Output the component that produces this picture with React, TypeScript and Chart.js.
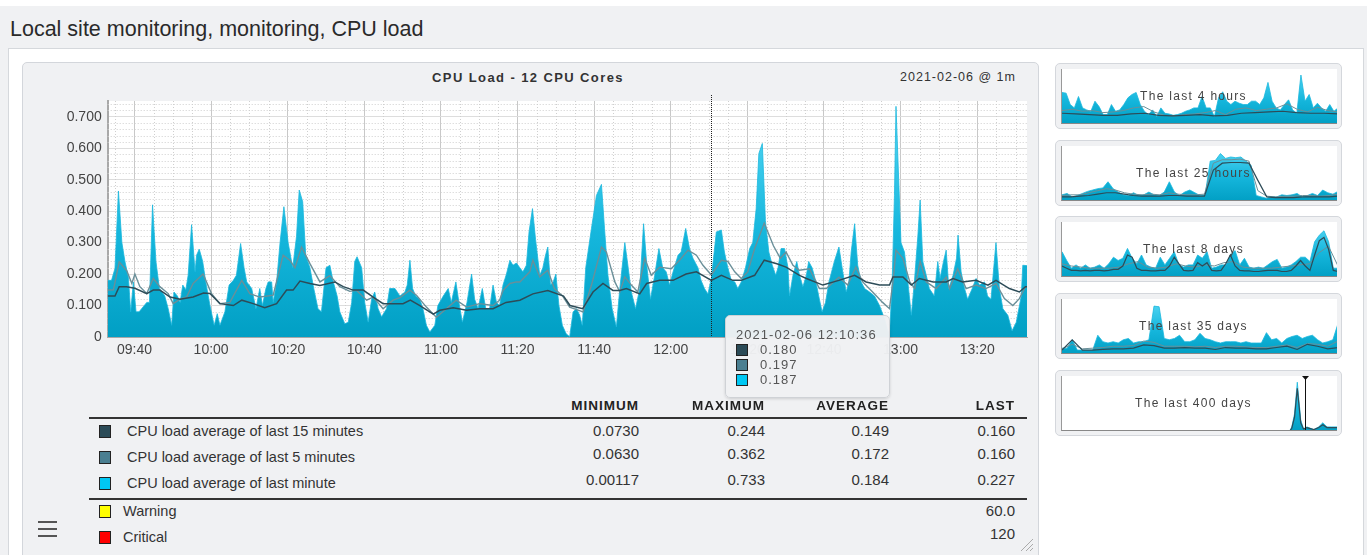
import React, { useEffect, useRef } from "react";
import { Chart, registerables } from "chart.js";

Chart.register(...registerables);

// ---------- main chart data (x = minutes after 09:33) ----------
const X_TICK_MIN = [7, 27, 47, 67, 87, 107, 127, 147, 167, 187, 207, 227];
const X_TICK_LABELS = ["09:40", "10:00", "10:20", "10:40", "11:00", "11:20", "11:40", "12:00", "12:20", "12:40", "13:00", "13:20"];
const HOVER_MIN = 157.6;

const T_1M = [0, 1.0, 1.9, 2.8, 3.7, 4.5, 5.4, 6.0, 6.7, 7.4, 8.2, 10.2, 10.9, 11.7, 12.6, 13.5, 14.9, 15.8, 16.7, 17.3, 18.2, 18.9, 19.6, 20.4, 21.0, 21.9, 22.8, 23.2, 23.9, 24.8, 25.6, 26.7, 27.8, 28.6, 29.3, 30.6, 31.7, 32.8, 33.6, 34.7, 35.6, 36.3, 37.6, 38.7, 39.7, 40.4, 41.3, 41.9, 42.8, 43.2, 44.1, 45.0, 46.0, 47.1, 48.3, 49.3, 50.0, 50.9, 51.7, 52.8, 53.8, 54.9, 55.8, 57.0, 58.0, 58.9, 59.9, 60.6, 61.9, 62.8, 63.7, 64.5, 65.1, 66.3, 67.1, 68.0, 68.9, 69.7, 70.6, 71.5, 72.8, 73.6, 75.0, 76.3, 77.6, 78.2, 78.9, 79.6, 80.4, 81.5, 82.3, 83.2, 84.1, 85.4, 86.2, 87.6, 88.9, 89.7, 90.9, 91.7, 92.6, 93.8, 95.0, 95.8, 96.7, 97.8, 98.7, 99.7, 100.6, 101.5, 102.3, 103.2, 104.1, 105.0, 105.8, 106.7, 107.6, 108.4, 109.3, 110.0, 110.9, 111.7, 112.8, 113.6, 114.3, 114.9, 115.6, 116.3, 117.0, 117.8, 118.7, 119.7, 120.6, 121.5, 122.4, 123.2, 123.9, 124.8, 126.3, 127.6, 128.9, 129.7, 130.6, 131.7, 132.8, 133.7, 135.0, 135.8, 136.7, 137.8, 138.9, 139.9, 140.8, 141.7, 142.8, 143.9, 144.9, 145.8, 146.7, 147.6, 148.9, 149.7, 150.9, 151.9, 152.8, 154.1, 154.9, 155.8, 156.7, 157.6, 158.9, 160.2, 161.0, 161.9, 162.8, 163.7, 164.5, 165.4, 166.5, 167.6, 168.4, 169.3, 170.0, 170.9, 171.7, 172.6, 173.5, 174.4, 175.0, 175.8, 176.7, 177.6, 178.0, 178.9, 179.9, 180.6, 181.5, 182.4, 183.0, 183.9, 184.9, 185.8, 186.5, 187.4, 188.3, 189.7, 190.9, 191.9, 192.8, 193.5, 194.1, 195.0, 195.8, 196.7, 197.6, 198.9, 200.2, 201.5, 202.8, 204.1, 204.8, 205.4, 205.8, 206.5, 207.1, 208.0, 208.9, 209.8, 210.6, 211.5, 212.1, 212.8, 213.7, 214.5, 215.8, 216.7, 217.3, 218.2, 218.9, 219.6, 220.7, 221.6, 222.0, 222.8, 223.7, 224.5, 225.7, 226.7, 227.6, 228.9, 229.7, 230.6, 231.9, 232.8, 233.7, 235.0, 236.1, 237.2, 238.5, 238.9, 239.8, 240];
const V_1M = [0.18, 0.18, 0.218, 0.464, 0.3, 0.24, 0.19, 0.08, 0.175, 0.08, 0.08, 0.11, 0.11, 0.42, 0.24, 0.154, 0.13, 0.09, 0.037, 0.143, 0.13, 0.11, 0.165, 0.15, 0.196, 0.357, 0.207, 0.26, 0.279, 0.24, 0.175, 0.1, 0.037, 0.074, 0.037, 0.08, 0.165, 0.18, 0.196, 0.297, 0.22, 0.175, 0.154, 0.09, 0.154, 0.1, 0.154, 0.175, 0.175, 0.11, 0.175, 0.3, 0.414, 0.3, 0.22, 0.32, 0.467, 0.43, 0.26, 0.22, 0.154, 0.09, 0.08, 0.22, 0.228, 0.175, 0.13, 0.08, 0.042, 0.047, 0.11, 0.24, 0.255, 0.22, 0.11, 0.047, 0.12, 0.143, 0.09, 0.064, 0.09, 0.154, 0.154, 0.13, 0.143, 0.165, 0.244, 0.154, 0.13, 0.12, 0.09, 0.037, 0.016, 0.037, 0.1, 0.13, 0.154, 0.11, 0.175, 0.11, 0.047, 0.11, 0.2, 0.12, 0.09, 0.154, 0.09, 0.09, 0.165, 0.11, 0.1, 0.165, 0.2, 0.244, 0.228, 0.235, 0.22, 0.207, 0.228, 0.334, 0.408, 0.31, 0.196, 0.22, 0.26, 0.286, 0.165, 0.175, 0.2, 0.1, 0.037, 0.01, 0.00117, 0.08, 0.09, 0.07, 0.037, 0.22, 0.345, 0.45, 0.485, 0.345, 0.196, 0.09, 0.032, 0.154, 0.3, 0.228, 0.143, 0.09, 0.154, 0.36, 0.22, 0.12, 0.196, 0.281, 0.22, 0.207, 0.165, 0.207, 0.26, 0.27, 0.345, 0.281, 0.25, 0.22, 0.18, 0.154, 0.137, 0.187, 0.334, 0.34, 0.27, 0.22, 0.18, 0.175, 0.154, 0.175, 0.22, 0.281, 0.3, 0.408, 0.583, 0.615, 0.37, 0.27, 0.228, 0.196, 0.22, 0.281, 0.281, 0.22, 0.13, 0.196, 0.24, 0.196, 0.16, 0.196, 0.24, 0.22, 0.175, 0.12, 0.08, 0.11, 0.175, 0.24, 0.286, 0.207, 0.143, 0.175, 0.27, 0.36, 0.228, 0.175, 0.154, 0.143, 0.13, 0.1, 0.058, 0.002, 0.175, 0.45, 0.733, 0.5, 0.3, 0.27, 0.175, 0.069, 0.175, 0.32, 0.435, 0.24, 0.196, 0.154, 0.13, 0.24, 0.186, 0.24, 0.276, 0.154, 0.196, 0.25, 0.324, 0.207, 0.154, 0.12, 0.154, 0.186, 0.165, 0.175, 0.13, 0.12, 0.3, 0.154, 0.09, 0.069, 0.02, 0.047, 0.13, 0.228, 0.227, 0.227];

const T_5M = [0, 1.5, 3.0, 5.0, 6.3, 7.1, 8.4, 10.2, 11.9, 13.6, 15.8, 17.1, 18.9, 20.6, 22.3, 24.9, 27.1, 29.3, 31.9, 35.0, 37.1, 39.7, 41.5, 43.2, 45.8, 47.6, 48.9, 50.6, 52.8, 55.4, 58.0, 60.6, 63.2, 65.0, 67.6, 69.3, 71.9, 74.5, 76.3, 78.9, 80.6, 83.2, 85.8, 88.4, 91.0, 93.7, 97.1, 100.6, 102.3, 103.2, 105.0, 106.7, 107.6, 110.2, 111.0, 112.8, 114.9, 116.6, 118.8, 120.6, 124.1, 126.3, 128.9, 130.2, 132.4, 133.7, 135.0, 136.7, 138.4, 140.2, 141.9, 144.1, 147.1, 149.3, 151.5, 153.7, 155.4, 157.6, 160.2, 161.9, 163.7, 165.4, 167.1, 168.9, 171.4, 173.8, 175.6, 177.1, 178.9, 180.6, 183.2, 185.8, 187.6, 190.9, 193.2, 195.3, 197.1, 199.7, 202.3, 204.1, 205.0, 205.8, 207.6, 209.4, 210.7, 212.1, 213.7, 216.3, 218.9, 219.8, 221.9, 224.1, 226.7, 229.3, 231.9, 234.1, 236.3, 238.0, 239.6, 240];
const V_5M = [0.149, 0.15, 0.239, 0.21, 0.17, 0.2, 0.16, 0.138, 0.186, 0.16, 0.138, 0.106, 0.12, 0.127, 0.17, 0.2, 0.138, 0.106, 0.11, 0.18, 0.138, 0.127, 0.13, 0.133, 0.26, 0.243, 0.22, 0.286, 0.233, 0.175, 0.195, 0.16, 0.145, 0.148, 0.117, 0.127, 0.09, 0.117, 0.125, 0.149, 0.133, 0.095, 0.063, 0.09, 0.117, 0.095, 0.106, 0.1, 0.117, 0.148, 0.17, 0.175, 0.175, 0.207, 0.244, 0.191, 0.212, 0.154, 0.13, 0.095, 0.08, 0.165, 0.286, 0.27, 0.175, 0.143, 0.191, 0.165, 0.143, 0.25, 0.196, 0.222, 0.217, 0.244, 0.276, 0.26, 0.228, 0.197, 0.244, 0.24, 0.207, 0.186, 0.207, 0.281, 0.362, 0.29, 0.25, 0.27, 0.228, 0.212, 0.217, 0.154, 0.154, 0.19, 0.165, 0.222, 0.175, 0.143, 0.11, 0.09, 0.175, 0.276, 0.25, 0.175, 0.154, 0.24, 0.175, 0.154, 0.19, 0.154, 0.217, 0.154, 0.165, 0.154, 0.17, 0.122, 0.1, 0.122, 0.16, 0.16];

const T_15M = [0, 1.9, 3.0, 4.9, 7.1, 10.2, 11.9, 13.6, 16.3, 18.9, 22.3, 25.0, 26.7, 29.3, 32.8, 35.0, 38.0, 41.0, 44.1, 46.7, 48.4, 50.2, 52.8, 55.4, 59.3, 61.5, 64.1, 66.7, 69.3, 71.9, 74.5, 77.1, 79.0, 81.5, 85.0, 86.7, 90.2, 93.7, 97.1, 100.6, 104.0, 107.6, 111.0, 114.9, 119.0, 120.7, 124.0, 126.7, 129.3, 131.9, 133.7, 135.4, 138.9, 140.7, 144.1, 147.6, 151.0, 153.7, 157.6, 160.2, 163.2, 165.4, 168.9, 171.4, 174.7, 177.1, 180.6, 182.4, 186.7, 190.9, 195.0, 198.0, 201.5, 204.1, 205.0, 207.6, 209.8, 211.9, 215.5, 218.9, 220.7, 223.2, 226.7, 229.8, 231.9, 235.4, 238.0, 239.6, 240];
const V_15M = [0.13, 0.13, 0.16, 0.16, 0.155, 0.138, 0.149, 0.149, 0.127, 0.12, 0.127, 0.14, 0.138, 0.106, 0.1, 0.117, 0.106, 0.093, 0.106, 0.149, 0.149, 0.178, 0.17, 0.164, 0.175, 0.16, 0.149, 0.149, 0.127, 0.106, 0.106, 0.106, 0.117, 0.1, 0.073, 0.085, 0.093, 0.085, 0.09, 0.09, 0.11, 0.117, 0.137, 0.148, 0.13, 0.1, 0.09, 0.143, 0.17, 0.148, 0.148, 0.154, 0.137, 0.17, 0.18, 0.18, 0.2, 0.207, 0.18, 0.196, 0.18, 0.18, 0.196, 0.244, 0.233, 0.222, 0.196, 0.186, 0.165, 0.18, 0.196, 0.175, 0.165, 0.165, 0.191, 0.191, 0.165, 0.186, 0.175, 0.175, 0.186, 0.175, 0.18, 0.165, 0.18, 0.154, 0.143, 0.16, 0.16];

// ---------- tooltip & legend table ----------
const TOOLTIP_TIME = "2021-02-06 12:10:36";
const TOOLTIP_VALUES = ["0.180", "0.197", "0.187"];
const SERIES_NAMES = ["CPU load average of last 15 minutes", "CPU load average of last 5 minutes", "CPU load average of last minute"];
const SERIES_COLORS = ["#2b4b57", "#4a7f91", "#00c8f4"];
const COL_HEADERS = ["MINIMUM", "MAXIMUM", "AVERAGE", "LAST"];
const MINIMUMS = ["0.0730", "0.0630", "0.00117"];
const MAXIMUMS = ["0.244", "0.362", "0.733"];
const AVERAGES = ["0.149", "0.172", "0.184"];
const LASTS = ["0.160", "0.160", "0.227"];
const THRESHOLD_NAMES = ["Warning", "Critical"];
const THRESHOLD_COLORS = ["#ffff00", "#ff0000"];
const THRESHOLD_VALUES = ["60.0", "120"];

// ---------- thumbnails ----------
const THUMB_LABELS = ["The last 4 hours", "The last 25 hours", "The last 8 days", "The last 35 days", "The last 400 days"];
const THUMB_YMAX = [0.82, 0.8, 0.5, 0.85, 0.8];

const TH4H_1M = [0.47, 0.46, 0.29, 0.24, 0.41, 0.24, 0.21, 0.19, 0.34, 0.26, 0.14, 0.14, 0.29, 0.19, 0.21, 0.29, 0.39, 0.44, 0.47, 0.29, 0.19, 0.14, 0.21, 0.11, 0.24, 0.16, 0.15, 0.13, 0.14, 0.16, 0.19, 0.21, 0.24, 0.24, 0.41, 0.24, 0.24, 0.11, 0.39, 0.48, 0.34, 0.29, 0.34, 0.31, 0.29, 0.29, 0.34, 0.34, 0.29, 0.39, 0.62, 0.34, 0.24, 0.21, 0.29, 0.36, 0.21, 0.16, 0.73, 0.34, 0.44, 0.24, 0.31, 0.24, 0.19, 0.29, 0.19, 0.24];
const TH4H_5M = [0.2, 0.22, 0.19, 0.2, 0.17, 0.18, 0.2, 0.24, 0.26, 0.18, 0.13, 0.12, 0.14, 0.15, 0.17, 0.2, 0.14, 0.22, 0.24, 0.2, 0.22, 0.24, 0.3, 0.22, 0.18, 0.25, 0.2, 0.18];
const TH4H_15M = [0.16, 0.15, 0.14, 0.13, 0.13, 0.15, 0.16, 0.13, 0.12, 0.13, 0.14, 0.12, 0.13, 0.16, 0.17, 0.18, 0.19, 0.17, 0.16, 0.16, 0.15];

const TH25H_1M = [0.09, 0.11, 0.06, 0.08, 0.11, 0.14, 0.16, 0.18, 0.19, 0.28, 0.18, 0.13, 0.09, 0.08, 0.12, 0.08, 0.09, 0.13, 0.09, 0.08, 0.13, 0.28, 0.13, 0.08, 0.13, 0.16, 0.12, 0.08, 0.09, 0.58, 0.59, 0.69, 0.62, 0.64, 0.63, 0.64, 0.58, 0.52, 0.08, 0.06, 0.04, 0.06, 0.06, 0.09, 0.08, 0.09, 0.11, 0.06, 0.08, 0.11, 0.08, 0.16, 0.12, 0.1, 0.14];
const TH25H_5M = [0.08, 0.09, 0.09, 0.12, 0.15, 0.18, 0.16, 0.12, 0.1, 0.09, 0.1, 0.09, 0.12, 0.1, 0.09, 0.09, 0.1, 0.55, 0.6, 0.6, 0.61, 0.58, 0.15, 0.07, 0.06, 0.07, 0.07, 0.08, 0.08, 0.07, 0.08, 0.1];
const TH25H_15M = [0.06, 0.06, 0.07, 0.08, 0.1, 0.12, 0.12, 0.1, 0.08, 0.07, 0.07, 0.07, 0.08, 0.08, 0.07, 0.07, 0.07, 0.45, 0.55, 0.56, 0.56, 0.55, 0.3, 0.06, 0.05, 0.05, 0.05, 0.06, 0.06, 0.06, 0.06, 0.07];

const TH8D_1M = [0.23, 0.15, 0.08, 0.11, 0.08, 0.11, 0.08, 0.09, 0.11, 0.08, 0.12, 0.18, 0.15, 0.17, 0.26, 0.17, 0.12, 0.2, 0.11, 0.09, 0.08, 0.18, 0.11, 0.17, 0.23, 0.11, 0.09, 0.11, 0.11, 0.2, 0.17, 0.23, 0.08, 0.09, 0.11, 0.11, 0.2, 0.24, 0.11, 0.17, 0.09, 0.08, 0.09, 0.08, 0.11, 0.14, 0.16, 0.08, 0.09, 0.11, 0.14, 0.18, 0.18, 0.14, 0.32, 0.38, 0.42, 0.32, 0.08, 0.08];
const TH8D_5M = [0.12, 0.1, 0.09, 0.08, 0.08, 0.08, 0.09, 0.12, 0.14, 0.09, 0.08, 0.09, 0.12, 0.1, 0.09, 0.11, 0.1, 0.13, 0.14, 0.09, 0.08, 0.08, 0.08, 0.09, 0.1, 0.11, 0.12, 0.22, 0.28, 0.1];
const TH8D_15M = [0.1, 0.08, 0.06, 0.06, 0.055, 0.06, 0.055, 0.06, 0.06, 0.055, 0.06, 0.07, 0.07, 0.1, 0.2, 0.18, 0.08, 0.06, 0.06, 0.055, 0.055, 0.06, 0.06, 0.1, 0.18, 0.12, 0.06, 0.055, 0.06, 0.13, 0.1, 0.13, 0.06, 0.055, 0.06, 0.12, 0.2, 0.1, 0.06, 0.055, 0.055, 0.05, 0.05, 0.055, 0.06, 0.06, 0.06, 0.05, 0.05, 0.06, 0.1, 0.15, 0.1, 0.06, 0.2, 0.33, 0.36, 0.25, 0.06, 0.05];

const TH35D_1M = [0.09, 0.09, 0.22, 0.06, 0.06, 0.06, 0.06, 0.29, 0.19, 0.17, 0.19, 0.17, 0.22, 0.24, 0.17, 0.19, 0.19, 0.22, 0.74, 0.73, 0.24, 0.22, 0.24, 0.29, 0.19, 0.19, 0.22, 0.32, 0.24, 0.22, 0.19, 0.17, 0.19, 0.19, 0.19, 0.17, 0.19, 0.17, 0.17, 0.17, 0.33, 0.22, 0.24, 0.17, 0.24, 0.27, 0.29, 0.24, 0.27, 0.29, 0.22, 0.17, 0.19, 0.22, 0.47];
const TH35D_5M = [0.08, 0.15, 0.08, 0.09, 0.1, 0.12, 0.12, 0.13, 0.2, 0.18, 0.12, 0.12, 0.12, 0.11, 0.12, 0.1, 0.12, 0.12, 0.11, 0.1, 0.1, 0.12, 0.14, 0.1, 0.16, 0.15, 0.12, 0.2];
const TH35D_15M = [0.06, 0.22, 0.06, 0.06, 0.07, 0.08, 0.08, 0.09, 0.14, 0.13, 0.09, 0.09, 0.1, 0.09, 0.09, 0.07, 0.1, 0.09, 0.09, 0.08, 0.08, 0.1, 0.12, 0.07, 0.15, 0.12, 0.08, 0.1];

const TH400D_DAYS = [330, 333, 337, 341, 346, 350, 355, 365, 372, 378, 384, 391, 400];
const TH400D_1M = [0, 0.06, 0.25, 0.71, 0.16, 0.03, 0.06, 0.02, 0.06, 0.12, 0.06, 0.06, 0.06];
const TH400D_15M = [0, 0.04, 0.2, 0.62, 0.12, 0.03, 0.05, 0.02, 0.05, 0.09, 0.05, 0.05, 0.05];
const TH400D_MARK = 352;

// ---------- helpers ----------
const FONT = "'Liberation Sans', Arial, sans-serif";
const pairs = (t: number[], v: number[]) => t.map((x, i) => ({ x, y: v[i] }));
const even = (v: number[], span: number) => v.map((y, i) => ({ x: (i / (v.length - 1)) * span, y }));

function areaFill(ctx: any) {
  const chart = ctx.chart;
  const a = chart.chartArea;
  if (!a) return "#0fb2d8";
  const g = chart.ctx.createLinearGradient(0, a.top, 0, a.bottom);
  g.addColorStop(0, "#5ad9f6");
  g.addColorStop(0.55, "#16b7dd");
  g.addColorStop(1, "#019fc4");
  return g;
}

const bgPlugin = {
  id: "plotBg",
  beforeDraw(chart: any) {
    const { ctx, chartArea: a } = chart;
    ctx.save();
    ctx.fillStyle = "#ffffff";
    ctx.fillRect(a.left, a.top, a.right - a.left, a.bottom - a.top);
    ctx.restore();
  },
};

const minorGridPlugin = {
  id: "minorGrid",
  beforeDatasetsDraw(chart: any) {
    const { ctx, chartArea: a, scales } = chart;
    ctx.save();
    ctx.strokeStyle = "#cfcfcf";
    ctx.lineWidth = 1;
    ctx.setLineDash([1, 2]);
    for (let m = 2; m < 240; m += 5) {
      if ((m - 7) % 20 === 0) continue;
      const x = Math.round(scales.x.getPixelForValue(m)) + 0.5;
      ctx.beginPath();
      ctx.moveTo(x, a.top);
      ctx.lineTo(x, a.bottom);
      ctx.stroke();
    }
    for (let k = 1; k < 38; k++) {
      if (k % 5 === 0) continue;
      const y = Math.round(scales.y.getPixelForValue(k * 0.02)) + 0.5;
      ctx.beginPath();
      ctx.moveTo(a.left, y);
      ctx.lineTo(a.right, y);
      ctx.stroke();
    }
    ctx.restore();
  },
};

const hoverPlugin = {
  id: "hoverLine",
  afterDatasetsDraw(chart: any) {
    const { ctx, chartArea: a, scales } = chart;
    const x = Math.round(scales.x.getPixelForValue(HOVER_MIN)) + 0.5;
    ctx.save();
    ctx.strokeStyle = "#222";
    ctx.lineWidth = 1;
    ctx.setLineDash([1, 1]);
    ctx.beginPath();
    ctx.moveTo(x, a.top - 6);
    ctx.lineTo(x, a.bottom);
    ctx.stroke();
    ctx.restore();
  },
};

function MainChart() {
  const ref = useRef<HTMLCanvasElement | null>(null);
  useEffect(() => {
    const chart = new Chart(ref.current as HTMLCanvasElement, {
      type: "line",
      data: {
        datasets: [
          { label: "15m", data: pairs(T_15M, V_15M), borderColor: "#2d4c58", borderWidth: 1.5, pointRadius: 0, fill: false, tension: 0 },
          { label: "5m", data: pairs(T_5M, V_5M), borderColor: "#6a8f99", borderWidth: 1.4, pointRadius: 0, fill: false, tension: 0 },
          { label: "1m", data: pairs(T_1M, V_1M), borderColor: "#1ab8dd", borderWidth: 0.8, pointRadius: 0, fill: "origin", backgroundColor: areaFill, tension: 0 },
        ],
      },
      options: {
        animation: false,
        responsive: false,
        maintainAspectRatio: false,
        events: [],
        layout: { padding: { top: 11, right: 8, bottom: 0, left: 0 } },
        plugins: { legend: { display: false }, tooltip: { enabled: false } },
        scales: {
          x: {
            type: "linear",
            min: 0,
            max: 240,
            afterBuildTicks: (s: any) => {
              s.ticks = X_TICK_MIN.map((v) => ({ value: v }));
            },
            afterFit: (s: any) => {
              s.height = 23;
              s.paddingLeft = 0;
              s.paddingRight = 0;
            },
            ticks: {
              callback: (_v: any, i: number) => X_TICK_LABELS[i],
              font: { family: FONT, size: 14 },
              color: "#444",
              padding: 5,
              maxRotation: 0,
              autoSkip: false,
            },
            grid: { color: "#c8c8c8", drawTicks: false, lineWidth: 1 },
            border: { color: "#a8a8a8", width: 1 },
          },
          y: {
            min: 0,
            max: 0.75,
            afterFit: (s: any) => {
              s.width = 67.7;
              s.paddingTop = 0;
              s.paddingBottom = 0;
            },
            ticks: {
              stepSize: 0.1,
              includeBounds: false,
              callback: (v: any) => (Number(v) === 0 ? "0" : Number(v).toFixed(3)),
              font: { family: FONT, size: 14 },
              color: "#444",
              padding: 6,
            },
            grid: { color: "#dddddd", drawTicks: false, lineWidth: 1 },
            border: { color: "#a8a8a8", width: 2 },
          },
        },
      },
      plugins: [bgPlugin, minorGridPlugin, hoverPlugin],
    } as any);
    return () => chart.destroy();
  }, []);
  return <canvas ref={ref} width={995} height={270} style={{ position: "absolute", left: 40, top: 90, width: 995, height: 270 }} />;
}

function markerPluginFor(day: number) {
  return {
    id: "mark",
    afterDatasetsDraw(chart: any) {
      const { ctx, chartArea: a, scales } = chart;
      const x = Math.round(scales.x.getPixelForValue(day)) + 0.5;
      ctx.save();
      ctx.strokeStyle = "#111";
      ctx.lineWidth = 1;
      ctx.beginPath();
      ctx.moveTo(x, a.top + 1);
      ctx.lineTo(x, a.bottom);
      ctx.stroke();
      ctx.fillStyle = "#111";
      ctx.beginPath();
      ctx.moveTo(x - 3.5, a.top);
      ctx.lineTo(x + 3.5, a.top);
      ctx.lineTo(x, a.top + 4);
      ctx.closePath();
      ctx.fill();
      ctx.restore();
    },
  };
}

function MiniChart(props: { area: { x: number; y: number }[]; l5?: { x: number; y: number }[]; l15: { x: number; y: number }[]; ymax: number; xmax: number; mark?: number }) {
  const ref = useRef<HTMLCanvasElement | null>(null);
  useEffect(() => {
    const ds: any[] = [{ data: props.l15, borderColor: "#2d4c58", borderWidth: 1.2, pointRadius: 0, fill: false, tension: 0 }];
    if (props.l5) ds.push({ data: props.l5, borderColor: "#6a8f99", borderWidth: 1, pointRadius: 0, fill: false, tension: 0 });
    ds.push({ data: props.area, borderColor: "#1ab8dd", borderWidth: 0.8, pointRadius: 0, fill: "origin", backgroundColor: areaFill, tension: 0 });
    const chart = new Chart(ref.current as HTMLCanvasElement, {
      type: "line",
      data: { datasets: ds },
      options: {
        animation: false,
        responsive: false,
        events: [],
        layout: { padding: 0 },
        plugins: { legend: { display: false }, tooltip: { enabled: false } },
        scales: {
          x: { type: "linear", display: false, min: 0, max: props.xmax },
          y: { display: false, min: 0, max: props.ymax },
        },
      },
      plugins: props.mark !== undefined ? [markerPluginFor(props.mark)] : [],
    } as any);
    return () => chart.destroy();
  }, []);
  return <canvas ref={ref} width={276} height={55} style={{ display: "block", width: 276, height: 55 }} />;
}

function Thumb(props: { top: number; label: string; children: any }) {
  return (
    <div style={{ position: "absolute", left: 1055, top: props.top, width: 285, height: 64, background: "#f0f1f3", border: "1.5px solid #d4d7dc", borderRadius: 5 }}>
      <div style={{ position: "absolute", left: 5, top: 5, width: 276, height: 55, background: "#fff", borderLeft: "1px solid #999", borderBottom: "1px solid #888", boxSizing: "border-box", overflow: "hidden" }}>
        {props.children}
      </div>
      <div style={{ position: "absolute", left: -5, width: 285, top: 25, textAlign: "center", font: `12px ${FONT}`, letterSpacing: 1.3, color: "#444" }}>{props.label}</div>
    </div>
  );
}

const COL_RIGHT = [639, 765, 889, 1015];

function Swatch(props: { left: number; top: number; color: string }) {
  return <div style={{ position: "absolute", left: props.left, top: props.top, width: 10, height: 11, background: props.color, border: "1.5px solid #222" }} />;
}

export default function App() {
  const textBase: any = { position: "absolute", whiteSpace: "nowrap", fontFamily: FONT };
  return (
    <div style={{ position: "absolute", left: 0, top: 0, width: 1367, height: 555, overflow: "hidden", background: "#f0f1f3", fontFamily: FONT }}>
      <div style={{ position: "absolute", left: 0, top: 0, width: 1367, height: 6, background: "#ffffff" }} />
      <div style={{ ...textBase, left: 10, top: 17, fontSize: 21.5, color: "#2a2a2a" }}>Local site monitoring, monitoring, CPU load</div>
      <div style={{ position: "absolute", left: 8, top: 48, width: 1354, height: 540, background: "#fff", border: "1px solid #d5d8dc" }} />
      <div style={{ position: "absolute", left: 22, top: 62, width: 1015, height: 520, background: "#f0f1f3", border: "1px solid #d3d6db", borderRadius: 5 }} />
      <div style={{ ...textBase, left: 0, width: 1056, top: 70, textAlign: "center", fontSize: 13, fontWeight: "bold", letterSpacing: 1.4, color: "#333" }}>CPU Load - 12 CPU Cores</div>
      <div style={{ ...textBase, right: 1367 - 1016, top: 70, fontSize: 12.5, letterSpacing: 1, color: "#333" }}>2021-02-06 @ 1m</div>

      <MainChart />

      {/* tooltip */}
      <div style={{ position: "absolute", left: 725, top: 315, width: 163, height: 81, background: "rgba(240,241,243,0.97)", border: "1px solid #cfd2d6", borderRadius: 5, boxShadow: "0 1px 3px rgba(0,0,0,0.15)" }}>
        <div style={{ ...textBase, left: 10, top: 11, fontSize: 13, letterSpacing: 1.05, color: "#555" }}>{TOOLTIP_TIME}</div>
        {TOOLTIP_VALUES.map((v, i) => (
          <React.Fragment key={v + i}>
            <div style={{ position: "absolute", left: 10, top: 28 + i * 15, width: 10, height: 10, background: SERIES_COLORS[i], border: "1.5px solid #222" }} />
            <div style={{ ...textBase, left: 34, top: 26 + i * 15, fontSize: 13, letterSpacing: 1, color: "#555" }}>{v}</div>
          </React.Fragment>
        ))}
      </div>

      {/* legend table */}
      {COL_HEADERS.map((h, i) => (
        <div key={h} style={{ ...textBase, right: 1367 - COL_RIGHT[i], top: 398, fontSize: 13.5, fontWeight: "bold", letterSpacing: 1, color: "#222" }}>{h}</div>
      ))}
      <div style={{ position: "absolute", left: 89, top: 417, width: 938, height: 2, background: "#333" }} />
      {SERIES_NAMES.map((n, i) => {
        const cy = 432 + i * 26;
        const lift = i === 0 ? 0 : 3;
        const vals = [MINIMUMS[i], MAXIMUMS[i], AVERAGES[i], LASTS[i]];
        return (
          <React.Fragment key={n}>
            <Swatch left={99} top={cy - 7} color={SERIES_COLORS[i]} />
            <div style={{ ...textBase, left: 127, top: cy - 9, fontSize: 14.5, color: "#333" }}>{n}</div>
            {vals.map((v, j) => (
              <div key={j} style={{ ...textBase, right: 1367 - COL_RIGHT[j], top: cy - 10 - lift, fontSize: 15, color: "#333" }}>{v}</div>
            ))}
          </React.Fragment>
        );
      })}
      <div style={{ position: "absolute", left: 89, top: 498, width: 938, height: 2, background: "#333" }} />
      {THRESHOLD_NAMES.map((n, i) => {
        const cy = 512 + i * 26;
        return (
          <React.Fragment key={n}>
            <Swatch left={99} top={cy - 7} color={THRESHOLD_COLORS[i]} />
            <div style={{ ...textBase, left: 123, top: cy - 9, fontSize: 14.5, color: "#333" }}>{n}</div>
            <div style={{ ...textBase, right: 1367 - COL_RIGHT[3], top: cy - 10 - (i === 1 ? 3 : 0), fontSize: 15, color: "#333" }}>{THRESHOLD_VALUES[i]}</div>
          </React.Fragment>
        );
      })}

      {/* hamburger */}
      {[0, 1, 2].map((k) => (
        <div key={k} style={{ position: "absolute", left: 38, top: 521 + k * 7, width: 19, height: 2, background: "#555" }} />
      ))}
      {/* resize handle */}
      <svg style={{ position: "absolute", left: 1018, top: 536 }} width={16} height={16}>
        <line x1={3} y1={15} x2={15} y2={3} stroke="#aaa" strokeWidth={1} />
        <line x1={8} y1={15} x2={15} y2={8} stroke="#aaa" strokeWidth={1} />
        <line x1={12} y1={15} x2={15} y2={12} stroke="#aaa" strokeWidth={1} />
      </svg>

      {/* thumbnails */}
      <Thumb top={63} label={THUMB_LABELS[0]}>
        <MiniChart area={even(TH4H_1M, 100)} l5={even(TH4H_5M, 100)} l15={even(TH4H_15M, 100)} ymax={THUMB_YMAX[0]} xmax={100} />
      </Thumb>
      <Thumb top={140} label={THUMB_LABELS[1]}>
        <MiniChart area={even(TH25H_1M, 100)} l5={even(TH25H_5M, 100)} l15={even(TH25H_15M, 100)} ymax={THUMB_YMAX[1]} xmax={100} />
      </Thumb>
      <Thumb top={216} label={THUMB_LABELS[2]}>
        <MiniChart area={even(TH8D_1M, 100)} l5={even(TH8D_5M, 100)} l15={even(TH8D_15M, 100)} ymax={THUMB_YMAX[2]} xmax={100} />
      </Thumb>
      <Thumb top={293} label={THUMB_LABELS[3]}>
        <MiniChart area={even(TH35D_1M, 100)} l5={even(TH35D_5M, 100)} l15={even(TH35D_15M, 100)} ymax={THUMB_YMAX[3]} xmax={100} />
      </Thumb>
      <Thumb top={370} label={THUMB_LABELS[4]}>
        <MiniChart area={pairs(TH400D_DAYS, TH400D_1M)} l15={pairs(TH400D_DAYS, TH400D_15M)} ymax={THUMB_YMAX[4]} xmax={400} mark={TH400D_MARK} />
      </Thumb>
    </div>
  );
}
